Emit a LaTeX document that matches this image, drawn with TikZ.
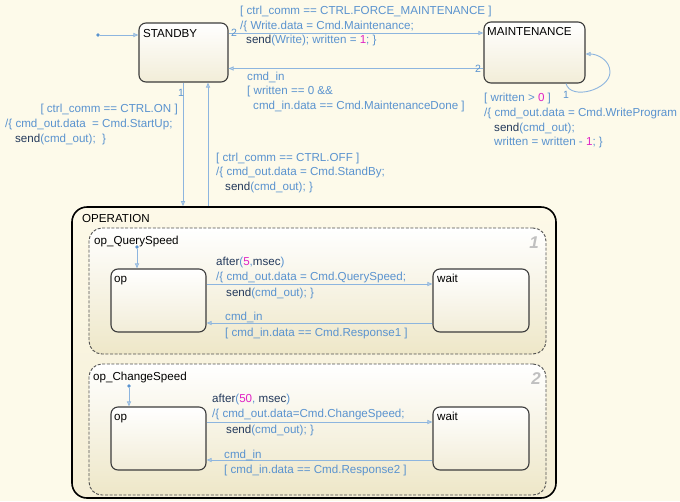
\documentclass[tikz,border=0pt]{standalone}
\usepackage{fontspec}
\setmainfont{Liberation Sans}
\usetikzlibrary{arrows.meta}
\definecolor{bgc}{HTML}{FDFAEA}
\definecolor{trc}{HTML}{8DB5DF}
\definecolor{trtext}{HTML}{5A93CF}
\definecolor{kwc}{HTML}{23395B}
\definecolor{numc}{HTML}{E023C4}
\definecolor{stborder}{HTML}{3C3C3C}
\definecolor{stbot}{HTML}{F2EDD8}
\definecolor{supbot}{HTML}{EEE7C8}
\definecolor{optop}{HTML}{FDF9E8}
\definecolor{opbot}{HTML}{F4EED6}
\definecolor{grayn}{HTML}{C0C0C0}
\newcommand{\sfkw}[1]{\textcolor{kwc}{#1}}
\newcommand{\sfnum}[1]{\textcolor{numc}{#1}}
\begin{document}
\begin{tikzpicture}[x=1pt,y=-1pt,
  statebox/.style={draw=stborder, line width=1.1pt, rounded corners=7pt, top color=white, bottom color=stbot, inner sep=0},
  superbox/.style={draw=stborder!90, line width=0.9pt, dash pattern=on 3pt off 1.6pt, rounded corners=13pt, top color=white, bottom color=supbot, inner sep=0},
  opbox/.style={draw=black, line width=1.6pt, rounded corners=15pt, top color=optop, bottom color=opbot, inner sep=0},
  trans/.style={draw=trc, line width=0.9pt, -{Triangle[open,length=5pt,width=4pt]}},
  dotc/.style={circle, fill=trtext, inner sep=0, minimum size=3.6pt},
  txt/.style={anchor=base west, inner sep=0, text=trtext, font=\fontsize{11.6}{13}\selectfont},
  stlab/.style={anchor=base west, inner sep=0, text=black, font=\fontsize{11.6}{13}\selectfont},
  tnum/.style={inner sep=0, text=trtext, font=\fontsize{10.5}{12}\selectfont},
  grnum/.style={inner sep=0, text=grayn, font=\fontsize{17}{18}\selectfont\bfseries\itshape}
]
\useasboundingbox (0,0) rectangle (680,501);
\fill[bgc] (0,0) rectangle (680,501);

% states
\node[statebox, minimum width=89pt, minimum height=59pt] (standby) at (183.5,52.5) {};
\node[statebox, minimum width=101pt, minimum height=61pt] (maint) at (534.5,52.5) {};
\node[opbox, minimum width=484pt, minimum height=291pt] (operation) at (314,352.5) {};
\node[superbox, minimum width=457pt, minimum height=126pt] (qs) at (317.5,291) {};
\node[superbox, minimum width=457pt, minimum height=131pt] (cs) at (317.5,429.5) {};
\node[statebox, minimum width=95pt, minimum height=63pt] (opq) at (158.5,300.5) {};
\node[statebox, minimum width=96pt, minimum height=63pt] (waitq) at (481,300.5) {};
\node[statebox, minimum width=95pt, minimum height=63pt] (opc) at (158.5,438.5) {};
\node[statebox, minimum width=96pt, minimum height=63pt] (waitc) at (481,438.5) {};

% state labels
\node[stlab] (lstandby) at (143,37) {STANDBY};
\node[stlab] (lmaint) at (487,35) {MAINTENANCE};
\node[stlab] (lop) at (82,222) {OPERATION};
\node[stlab] (lqs) at (94,244) {op\_QuerySpeed};
\node[stlab] (lopq) at (114,282) {op};
\node[stlab] (lwaitq) at (437,282) {wait};
\node[stlab] (lcs) at (93,380) {op\_ChangeSpeed};
\node[stlab] (lopc) at (114,420) {op};
\node[stlab] (lwaitc) at (437,420) {wait};
\node[grnum] (g1) at (534,243) {1};
\node[grnum] (g2) at (536,379) {2};

% initial dots
\node[dotc] (d0) at (98,35) {};
\node[dotc] (d1) at (137,247) {};
\node[dotc] (d2) at (129,386) {};

% transitions
\draw[trans] (d0) -- (standby.west |- 0,35);
\draw[trans] (standby.east |- 0,33) -- (maint.west |- 0,33);
\draw[trans] (maint.west |- 0,68.5) -- (standby.east |- 0,68.5);
\draw[trans] (maint.south -| 566,0) to[out=-75,in=-90] (610,72) to[out=90,in=0] (maint.east |- 0,54);
\draw[trans] (standby.south -| 183,0) -- (operation.north -| 183,0);
\draw[trans] (operation.north -| 208,0) -- (standby.south -| 208,0);
\draw[trans] (d1) -- (opq.north -| 137,0);
\draw[trans] (opq.east |- 0,284) -- (waitq.west |- 0,284);
\draw[trans] (waitq.west |- 0,323) -- (opq.east |- 0,323);
\draw[trans] (d2) -- (opc.north -| 129,0);
\draw[trans] (opc.east |- 0,422) -- (waitc.west |- 0,422);
\draw[trans] (waitc.west |- 0,460) -- (opc.east |- 0,460);

% transition numbers
\node[tnum] (n1) at (234,33) {2};
\node[tnum] (n2) at (478,69) {2};
\node[tnum] (n3) at (566,95) {1};
\node[tnum] (n4) at (181,93) {1};

% labels: STANDBY -> MAINTENANCE
\node[txt] (a1) at (240,14) {[ ctrl\_comm == CTRL.FORCE\_MAINTENANCE ]};
\node[txt] (a2) at (240,29) {/\{ Write.data = Cmd.Maintenance;};
\node[txt] (a3) at (246,43.5) {\sfkw{send}(Write); written = \sfnum{1}; \}};
% MAINTENANCE -> STANDBY
\node[txt] (b1) at (247,80) {cmd\_in};
\node[txt] (b2) at (247,94.5) {[ written == 0 \&\&};
\node[txt] (b3) at (253,109) {cmd\_in.data == Cmd.MaintenanceDone ]};
% self loop
\node[txt] (c1) at (484,101) {[ written > \sfnum{0} ]};
\node[txt] (c2) at (484,116) {/\{ cmd\_out.data = Cmd.WriteProgram};
\node[txt] (c3) at (494,131) {\sfkw{send}(cmd\_out);};
\node[txt] (c4) at (494,145) {written = written - \sfnum{1}; \}};
% STANDBY -> OPERATION
\node[txt, anchor=base east] (e1) at (178,112) {[ ctrl\_comm == CTRL.ON ]};
\node[txt] (e2) at (5,127) {/\{ cmd\_out.data \ = Cmd.StartUp;};
\node[txt] (e3) at (15,142) {\sfkw{send}(cmd\_out); \ \}};
% OPERATION -> STANDBY
\node[txt] (f1) at (216,161) {[ ctrl\_comm == CTRL.OFF ]};
\node[txt] (f2) at (216,175.5) {/\{ cmd\_out.data = Cmd.StandBy;};
\node[txt] (f3) at (225,190) {\sfkw{send}(cmd\_out); \}};
% query speed
\node[txt] (q1) at (216,265.5) {\sfkw{after}(\sfnum{5},\sfkw{msec})};
\node[txt] (q2) at (216,280.5) {/\{ cmd\_out.data = Cmd.QuerySpeed;};
\node[txt] (q3) at (226,296) {\sfkw{send}(cmd\_out); \}};
\node[txt] (q4) at (225,320) {cmd\_in};
\node[txt] (q5) at (225,336) {[ cmd\_in.data == Cmd.Response1 ]};
% change speed
\node[txt] (s1) at (212,402.5) {\sfkw{after}(\sfnum{50}, \sfkw{msec})};
\node[txt] (s2) at (212,417.5) {/\{ cmd\_out.data=Cmd.ChangeSpeed;};
\node[txt] (s3) at (226,433) {\sfkw{send}(cmd\_out); \}};
\node[txt] (s4) at (224,458) {cmd\_in};
\node[txt] (s5) at (224,473.5) {[ cmd\_in.data == Cmd.Response2 ]};
\end{tikzpicture}
\end{document}
